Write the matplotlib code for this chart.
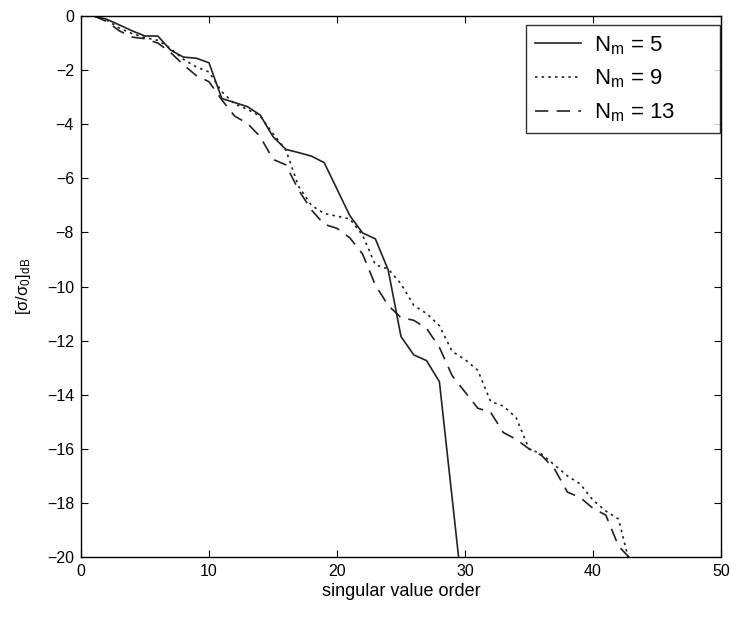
import numpy as np
import matplotlib
matplotlib.use('Agg')
import matplotlib.pyplot as plt

plt.rcParams['font.family'] = ['Liberation Sans', 'DejaVu Sans']
plt.rcParams['mathtext.fontset'] = 'custom'
plt.rcParams['mathtext.rm'] = 'Liberation Sans'
plt.rcParams['mathtext.it'] = 'Liberation Sans'

# singular value decay curves
x5 = np.arange(1, 31)
y5 = [0, -0.12, -0.33, -0.55, -0.74, -0.74, -1.26, -1.52, -1.56, -1.73,
      -3.05, -3.2, -3.35, -3.66, -4.46, -4.93, -5.05, -5.18, -5.42, -6.4,
      -7.38, -8.02, -8.24, -9.39, -11.85, -12.53, -12.74, -13.52, -17.84, -22.16]

x9 = np.arange(1, 44)
y9 = [0, -0.15, -0.45, -0.65, -0.8, -0.9, -1.2, -1.6, -1.88, -2.07,
      -2.8, -3.25, -3.45, -3.7, -4.35, -4.95, -6.3, -7.0, -7.3, -7.4,
      -7.5, -8.1, -9.2, -9.35, -9.9, -10.7, -11.0, -11.45, -12.4, -12.7,
      -13.1, -14.25, -14.42, -14.85, -16.0, -16.2, -16.6, -17.0, -17.3, -17.9,
      -18.3, -18.6, -20.5]

x13 = np.arange(1, 44)
y13 = [0, -0.2, -0.55, -0.78, -0.84, -1.0, -1.35, -1.8, -2.2, -2.43,
       -3.1, -3.7, -3.97, -4.46, -5.3, -5.5, -6.43, -7.17, -7.7, -7.85,
       -8.2, -8.8, -9.95, -10.7, -11.15, -11.25, -11.55, -12.25, -13.3, -13.9,
       -14.5, -14.65, -15.4, -15.65, -16.0, -16.25, -16.75, -17.6, -17.8, -18.2,
       -18.45, -19.6, -20.1]

labels = ['N$_\\mathrm{m}$ = 5', 'N$_\\mathrm{m}$ = 9', 'N$_\\mathrm{m}$ = 13']

fig = plt.figure(figsize=(7.31, 6.2), dpi=100)
ax = fig.add_axes([0.1108, 0.1016, 0.8755, 0.8726])

ax.plot(x5, y5, color='#222222', lw=1.2, linestyle='-', label=labels[0])
ax.plot(x9, y9, color='#222222', lw=1.2, linestyle=(0, (1.5, 2.5)), label=labels[1])
ax.plot(x13, y13, color='#222222', lw=1.2, linestyle=(0, (8, 5)), label=labels[2])

ax.set_xlim(0, 50)
ax.set_ylim(-20, 0)
ax.set_xticks(np.arange(0, 51, 10))
ax.set_yticks(np.arange(-20, 1, 2))
ax.tick_params(direction='in', top=True, right=True, length=5, width=0.8,
               labelsize=11.5, pad=5)
for s in ax.spines.values():
    s.set_linewidth(1.0)

ax.set_xlabel('singular value order', fontsize=13, labelpad=3)
ax.set_ylabel('[σ/σ$_0$]$_\\mathrm{dB}$', fontsize=12, labelpad=10)

leg = ax.legend(loc='upper left', fontsize=16, frameon=True, fancybox=False,
                edgecolor='black', handlelength=2.1, borderpad=0.4,
                labelspacing=0.5, handletextpad=0.55, borderaxespad=0,
                mode='expand', bbox_to_anchor=(0.695, 0, 0.303, 0.983))
leg.get_frame().set_linewidth(1.0)

fig.savefig('out.png', dpi=100)
